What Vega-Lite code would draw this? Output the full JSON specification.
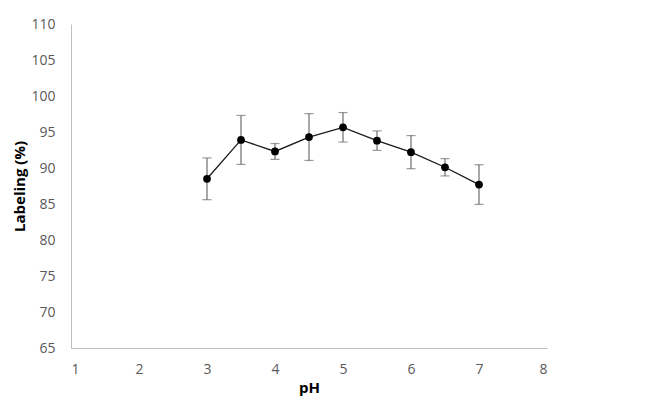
{
  "$schema": "https://vega.github.io/schema/vega-lite/v6.json",
  "autosize": "none",
  "width": 476,
  "height": 324,
  "padding": {"left": 71, "top": 24, "right": 122, "bottom": 57},
  "background": "white",
  "config": {
    "view": {"stroke": null},
    "font": "Open Sans",
    "axis": {
      "grid": false,
      "ticks": false,
      "domainColor": "#bfbfbf",
      "domainWidth": 1,
      "labelColor": "#595959",
      "labelFontSize": 14,
      "labelOverlap": false,
      "titleColor": "#000000",
      "titleFontSize": 15,
      "titleFontWeight": "bold"
    }
  },
  "data": {
    "values": [
      {"pH": 3.0, "labeling": 88.5, "err": 2.9},
      {"pH": 3.5, "labeling": 93.9, "err": 3.4},
      {"pH": 4.0, "labeling": 92.3, "err": 1.1},
      {"pH": 4.5, "labeling": 94.3, "err": 3.25},
      {"pH": 5.0, "labeling": 95.65, "err": 2.05},
      {"pH": 5.5, "labeling": 93.8, "err": 1.35},
      {"pH": 6.0, "labeling": 92.2, "err": 2.3},
      {"pH": 6.5, "labeling": 90.1, "err": 1.2},
      {"pH": 7.0, "labeling": 87.7, "err": 2.75}
    ]
  },
  "transform": [
    {"calculate": "datum.labeling - datum.err", "as": "lo"},
    {"calculate": "datum.labeling + datum.err", "as": "hi"}
  ],
  "encoding": {
    "x": {
      "field": "pH", "type": "quantitative",
      "scale": {"domain": [1, 8], "nice": false, "zero": false},
      "axis": {"title": "pH", "values": [1, 2, 3, 4, 5, 6, 7, 8], "format": "d", "labelPadding": 14, "titlePadding": 4}
    }
  },
  "layer": [
    {
      "mark": {"type": "errorbar", "color": "#6e6e6e", "thickness": 1.2, "ticks": {"size": 9, "color": "#6e6e6e", "thickness": 1.2}},
      "encoding": {
        "y": {
          "field": "lo", "type": "quantitative",
          "scale": {"domain": [65, 110], "nice": false, "zero": false},
          "axis": {"title": "Labeling (%)", "values": [65, 70, 75, 80, 85, 90, 95, 100, 105, 110], "labelPadding": 16, "titlePadding": 3}
        },
        "y2": {"field": "hi"}
      }
    },
    {
      "mark": {"type": "line", "color": "#1a1a1a", "strokeWidth": 1.3},
      "encoding": {
        "y": {
          "field": "labeling", "type": "quantitative",
          "scale": {"domain": [65, 110], "nice": false, "zero": false},
          "axis": {"title": "Labeling (%)", "values": [65, 70, 75, 80, 85, 90, 95, 100, 105, 110], "labelPadding": 16, "titlePadding": 3}
        }
      }
    },
    {
      "mark": {"type": "point", "filled": true, "color": "#000000", "opacity": 1, "size": 60},
      "encoding": {
        "y": {
          "field": "labeling", "type": "quantitative",
          "scale": {"domain": [65, 110], "nice": false, "zero": false},
          "axis": {"title": "Labeling (%)", "values": [65, 70, 75, 80, 85, 90, 95, 100, 105, 110], "labelPadding": 16, "titlePadding": 3}
        }
      }
    }
  ]
}
